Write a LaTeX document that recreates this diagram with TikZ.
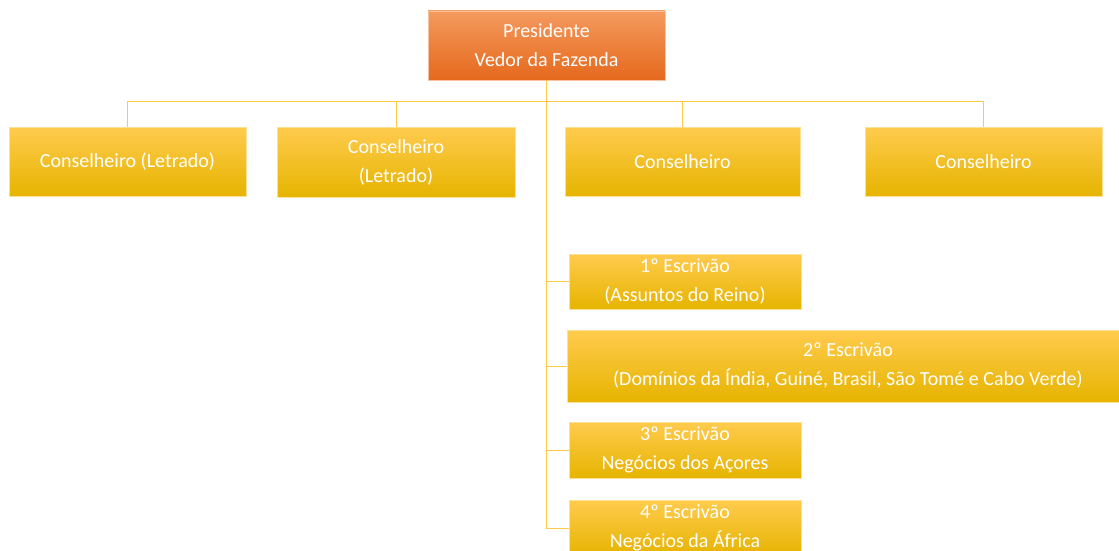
\documentclass[tikz,border=0pt]{standalone}
\usepackage{fontspec}
\setmainfont{Carlito}
\usepackage{tikz}
\usetikzlibrary{positioning,calc}
\usepackage{xcolor}
\definecolor{orangetop}{HTML}{F49A5E}
\definecolor{orangemid}{HTML}{F07E33}
\definecolor{orangebot}{HTML}{E5691D}
\definecolor{goldtop}{HTML}{FFCB4E}
\definecolor{goldmid}{HTML}{FFC000}
\definecolor{goldbot}{HTML}{E6B400}
\definecolor{linkc}{HTML}{FFC94A}

\begin{document}
\begin{tikzpicture}[x=1pt, y=-1pt,
    box/.style={inner sep=0pt, text=white, align=center,
      font=\fontsize{20}{29}\selectfont,
      top color=goldtop, middle color=goldmid, bottom color=goldbot,
      draw=goldtop!60!white, line width=0.6pt},
    head/.style={box, top color=orangetop, middle color=orangemid,
      bottom color=orangebot, draw=orangetop!60!white},
    link/.style={linkc, line width=1pt}]
  \path[use as bounding box] (0,0) rectangle (1119,551);
  \clip (0,0) rectangle (1119,551);
  % top of the chart
  \node[head, minimum width=237pt, minimum height=69pt] (pres) at (546.5,45.5) {Presidente\\Vedor da Fazenda};
  % council
  \node[box, minimum width=237pt, minimum height=69pt] (cons1) at (127.5,161.5) {Conselheiro (Letrado)};
  \node[box, minimum width=238pt, minimum height=70pt] (cons2) at (396,162) {Conselheiro\\(Letrado)};
  \node[box, minimum width=235pt, minimum height=69pt] (cons3) at (682.5,161.5) {Conselheiro};
  \node[box, minimum width=237pt, minimum height=69pt] (cons4) at (983.5,161.5) {Conselheiro};
  % clerks
  \node[box, minimum width=232pt, minimum height=55pt] (esc1) at (685,281.5) {1º Escrivão\\(Assuntos do Reino)};
  \node[box, minimum width=562pt, minimum height=72pt] (esc2) at (848,366) {2º Escrivão\\(Domínios da Índia, Guiné, Brasil, São Tomé e Cabo Verde)};
  \node[box, minimum width=232pt, minimum height=56pt] (esc3) at (685,450) {3º Escrivão\\Negócios dos Açores};
  \node[box, minimum width=232pt, minimum height=56pt] (esc4) at (685,528) {4º Escrivão\\Negócios da África};
  % connectors
  \draw[link] (pres.south) -- ++(0,21) coordinate (bus);
  \foreach \c in {cons1,cons2,cons3,cons4}
    \draw[link] (\c.north) |- (bus);
  \foreach \e in {esc1,esc2,esc3,esc4}
    \draw[link] (pres.south) |- (\e.west);
\end{tikzpicture}
\end{document}
